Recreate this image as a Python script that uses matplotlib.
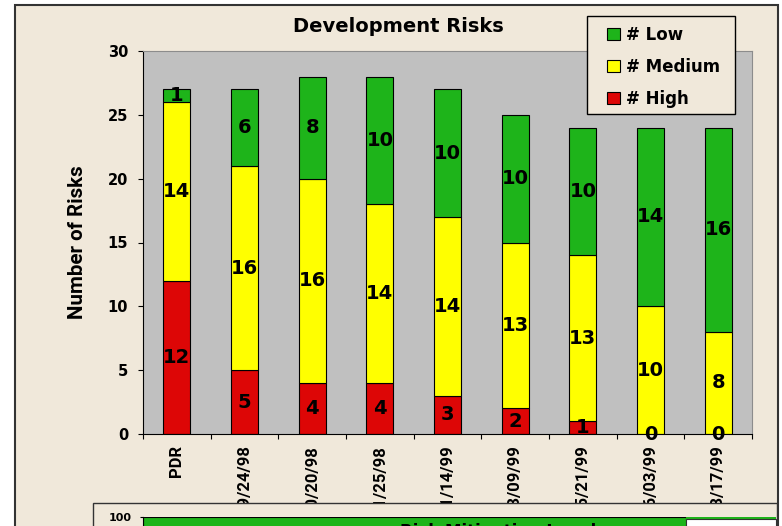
import numpy as np
import matplotlib.pyplot as plt
from matplotlib.patches import Rectangle

# data
dates = ["PDR", "09/24/98", "10/20/98", "11/25/98", "01/14/99",
         "03/09/99", "05/21/99", "06/03/99", "08/17/99"]
high = [12, 5, 4, 4, 3, 2, 1, 0, 0]
medium = [14, 16, 16, 14, 14, 13, 13, 10, 8]
low = [1, 6, 8, 10, 10, 10, 10, 14, 16]
mitigation = [100]   # the chart below, only its top edge shows

W, H = 782, 526
beige = "#F0E8DA"
green = "#1EB41A"
yellow = "#FFFF00"
red = "#DD0606"
rot_font = "Roboto"

fig = plt.figure(figsize=(W / 100, H / 100), dpi=100, facecolor="white")


def box(x0, y0, x1, y1, **kw):
    # rectangle given in pixel coords (y down)
    r = Rectangle((x0 / W, 1 - y1 / H), (x1 - x0) / W, (y1 - y0) / H,
                  transform=fig.transFigure, **kw)
    fig.patches.append(r)


# slide frame
box(15, 5, 778, 560, facecolor=beige, edgecolor="#333333", lw=1.5, zorder=-5)

ax = fig.add_axes([143 / W, 1 - 434 / H, 609 / W, 383 / H], zorder=1)
ax.set_facecolor("#C0C0C0")

x = np.arange(len(dates))
bw = 0.4
mid_bottom = np.array(high)
low_bottom = np.add(high, medium)
b_high = ax.bar(x, high, bw, color=red, edgecolor="black", lw=0.8, label="# High")
b_med = ax.bar(x, medium, bw, bottom=mid_bottom, color=yellow, edgecolor="black",
               lw=0.8, label="# Medium")
b_low = ax.bar(x, low, bw, bottom=low_bottom, color=green, edgecolor="black",
               lw=0.8, label="# Low")
for c in (b_high, b_med, b_low):
    ax.bar_label(c, label_type="center", fontsize=14, fontweight="bold",
                 family="DejaVu Sans", color="black")

ax.set_xlim(-0.5, len(dates) - 0.5)
ax.set_ylim(0, 30)
ax.set_yticks(range(0, 31, 5))
ax.set_xticks(np.arange(-0.5, len(dates), 1))
ax.set_xticklabels([])
ax.set_xticks(x, labels=dates, minor=True)
ax.tick_params(axis="x", which="minor", length=0, pad=8, labelrotation=90)
ax.tick_params(axis="x", which="major", length=3.6, width=0.8)
ax.tick_params(axis="y", length=3.6, width=0.8, pad=7)
for t in ax.get_yticklabels():
    t.set_fontfamily("DejaVu Sans")
    t.set_fontweight("bold")
    t.set_fontsize(10.5)
for t in ax.get_xticklabels(minor=True):
    t.set_fontfamily(rot_font)
    t.set_fontweight("bold")
    t.set_fontsize(12)
for s in ("top", "right"):
    ax.spines[s].set_color("#8c8c8c")
for s in ("left", "bottom"):
    ax.spines[s].set_color("black")

ax.set_ylabel("Number of Risks", fontsize=14.8, fontweight="bold", family=rot_font)
ax.yaxis.set_label_coords(-0.092, 0.5)

fig.text(398 / W, 1 - 26 / H, "Development Risks", ha="center", va="center",
         fontsize=14, fontweight="bold", family="DejaVu Sans")

# legend
box(587, 16, 735, 114, facecolor=beige, edgecolor="black", lw=1, zorder=4)
fig.legend(handles=[b_low, b_med, b_high],
           labels=["# Low", "# Medium", "# High"],
           loc="upper left", bbox_to_anchor=(607 / W, 1 - 26 / H),
           frameon=False, borderpad=0, borderaxespad=0,
           handlelength=0.8, handleheight=0.7, handletextpad=0.36,
           labelspacing=0.84,
           prop=dict(family="DejaVu Sans", weight="bold", size=12))

# next chart on the slide, cut off at the bottom
box(93, 503, 777, 560, facecolor=beige, edgecolor="#333333", lw=1, zorder=3)
box(686, 517, 776, 560, facecolor=green, lw=0, zorder=3.5)
box(686, 519, 776, 560, facecolor="white", edgecolor="#333333", lw=0.8, zorder=3.6)

ax2 = fig.add_axes([143 / W, 1 - 617 / H, 543 / W, 100 / H], zorder=4)
ax2.bar([0], mitigation, width=1, color=green, edgecolor="black", lw=0.8)
ax2.set_xlim(-0.5, 0.5)
ax2.set_ylim(0, 100)
ax2.set_xticks([])
ax2.set_yticks([100])
ax2.tick_params(axis="y", length=2.5, pad=6)
for t in ax2.get_yticklabels():
    t.set_fontfamily("DejaVu Sans")
    t.set_fontweight("bold")
    t.set_fontsize(8)
for s in ("top", "right", "bottom"):
    ax2.spines[s].set_visible(False)

fig.text(400 / W, 1 - 523 / H, "Risk Mitigation Level", ha="left", va="top",
         fontsize=12, fontweight="bold", family="DejaVu Sans", zorder=10)

fig.savefig("out.png", dpi=100, facecolor=fig.get_facecolor())
